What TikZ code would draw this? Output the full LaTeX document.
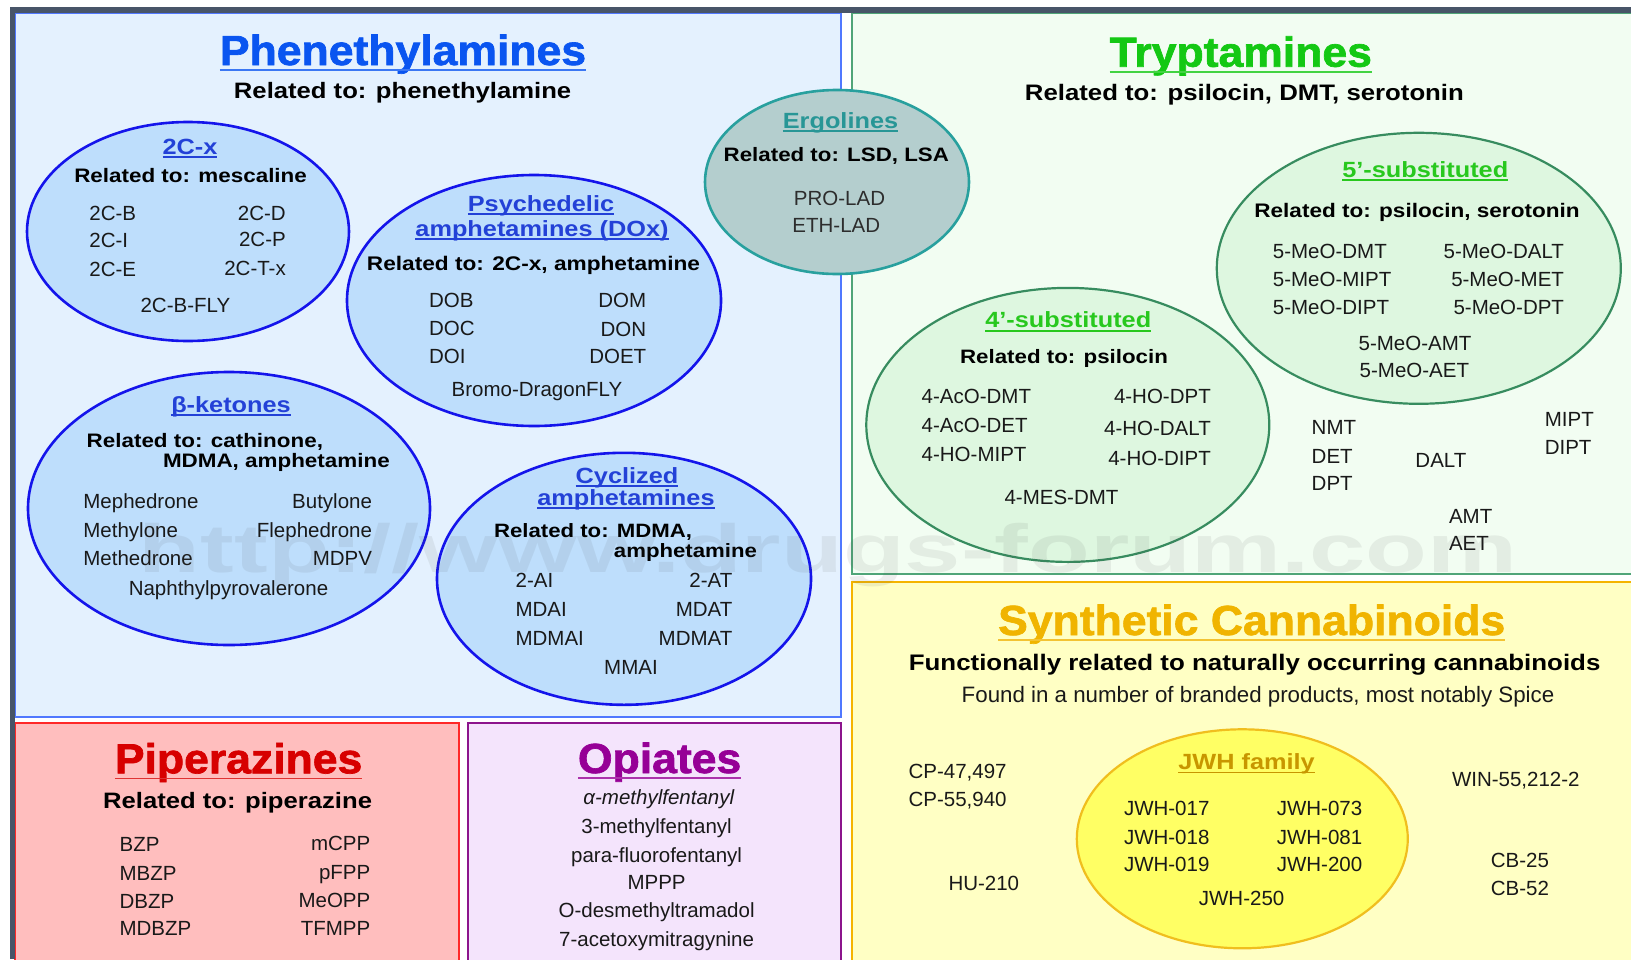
\documentclass[tikz,border=0pt]{standalone}
\usepackage{fontspec}
\setmainfont{Liberation Sans}[BoldFeatures={FakeStretch=1.15}]
\newfontfamily\ttlfont{Liberation Sans}[FakeStretch=1.06,BoldFeatures={FakeBold=1.6}]
\usetikzlibrary{shapes.geometric}
\definecolor{framec}{RGB}{72,85,104}
\definecolor{phfill}{RGB}{228,241,254}
\definecolor{phline}{RGB}{80,120,255}
\definecolor{trfill}{RGB}{242,253,242}
\definecolor{trline}{RGB}{80,165,120}
\definecolor{syfill}{RGB}{255,255,196}
\definecolor{syline}{RGB}{245,180,0}
\definecolor{pifill}{RGB}{255,190,190}
\definecolor{piline}{RGB}{255,40,40}
\definecolor{opfill}{RGB}{244,228,252}
\definecolor{opline}{RGB}{140,20,140}
\definecolor{bellfill}{RGB}{190,222,252}
\definecolor{bellline}{RGB}{20,20,235}
\definecolor{gellfill}{RGB}{222,247,224}
\definecolor{gellline}{RGB}{55,140,95}
\definecolor{eellfill}{RGB}{180,206,206}
\definecolor{eellline}{RGB}{40,160,158}
\definecolor{yellfill}{RGB}{255,255,100}
\definecolor{yellline}{RGB}{240,190,30}
\definecolor{phttl}{RGB}{10,85,240}
\definecolor{trttl}{RGB}{20,200,20}
\definecolor{syttl}{RGB}{240,180,0}
\definecolor{pittl}{RGB}{215,0,0}
\definecolor{opttl}{RGB}{150,0,150}
\definecolor{bsub}{RGB}{35,65,215}
\definecolor{gsub}{RGB}{40,200,30}
\definecolor{esub}{RGB}{40,150,150}
\definecolor{ysub}{RGB}{200,150,0}
\definecolor{txt}{RGB}{25,25,25}
\definecolor{ergtxt}{RGB}{45,45,45}
\tikzset{
  every node/.style={inner sep=0pt, outer sep=0pt},
  itx/.style={font=\fontsize{20.5}{24}\selectfont, text=txt},
  itl/.style={itx, anchor=base west},
  itr/.style={itx, anchor=base east},
  itc/.style={itx, anchor=base},
  rel/.style={font=\fontsize{#1}{#1}\selectfont\bfseries, text=black, anchor=base},
  ttl/.style={font=\fontsize{42}{48}\ttlfont\bfseries, anchor=base},
  subt/.style={font=\fontsize{22}{26}\selectfont\bfseries, anchor=base},
  ellbase/.style={shape=ellipse, inner sep=0pt},
  bell/.style={ellbase, fill=bellfill, draw=bellline, line width=2.6pt},
  gell/.style={ellbase, fill=gellfill, draw=gellline, line width=2.2pt},
  eell/.style={ellbase, fill=eellfill, draw=eellline, line width=2.6pt},
  yell/.style={ellbase, fill=yellfill, draw=yellline, line width=2.2pt},
}
\newcommand\ttlnode[5]{%
  \node[ttl, text=#4] (#1) at (#2,#3) {#5};
  \draw[#4!80, line width=1.6pt] ([yshift=-5pt]#1.base west) -- ([yshift=-5pt]#1.base east);}
\newcommand\subnode[5]{%
  \node[subt, text=#4] (#1) at (#2,#3) {#5};
  \draw[#4, line width=1.4pt] ([yshift=-3pt]#1.base west) -- ([yshift=-3pt]#1.base east);}
\begin{document}
\begin{tikzpicture}[x=1pt,y=-1pt]
\clip (0,0) rectangle (1631,959);
\fill[white] (0,0) rectangle (1631,959);
% panels
\draw[fill=phfill, draw=phline, line width=2pt] (15,13) rectangle (841,717);
\draw[fill=trfill, draw=trline, line width=2pt] (852,13) rectangle (1650,574);
\draw[fill=syfill, draw=syline, line width=2.5pt] (852,582) rectangle (1650,975);
\draw[fill=pifill, draw=piline, line width=2pt] (15,723) rectangle (459,975);
\draw[fill=opfill, draw=opline, line width=2.5pt] (468,723) rectangle (841,975);
% ellipses
\node[bell, minimum width=322, minimum height=219] (e2c) at (188,231.5) {};
\node[bell, minimum width=374, minimum height=251] (eps) at (534,300.5) {};
\node[bell, minimum width=402, minimum height=273] (ebk) at (229,508.5) {};
\node[bell, minimum width=374, minimum height=252] (ecy) at (624,578.8) {};
\node[eell, minimum width=264, minimum height=184] (eer) at (837,182) {};
\node[gell, minimum width=404, minimum height=271] (e5) at (1418.8,268.3) {};
\node[gell, minimum width=403, minimum height=274] (e4) at (1067.8,424.9) {};
\node[yell, minimum width=331, minimum height=219] (ejw) at (1242.3,838.8) {};
% Phenethylamines
\ttlnode{tph}{403}{65}{phttl}{Phenethylamines}
\node[rel=22.3] (rph) at (402.6,98.3) {Related to: phenethylamine};
% 2C-x
\subnode{s2c}{190}{154}{bsub}{2C-x}
\node[rel=19.5] (r2c) at (190.6,182.7) {Related to: mescaline};
\node[itl] (c1) at (89.4,220) {2C-B};
\node[itr] (c2) at (285.8,220) {2C-D};
\node[itl] (c3) at (89.4,247.3) {2C-I};
\node[itr] (c4) at (285.8,246) {2C-P};
\node[itl] (c5) at (89.4,276) {2C-E};
\node[itr] (c6) at (285.8,275) {2C-T-x};
\node[itc] (c7) at (185.4,312.7) {2C-B-FLY};
% Psychedelic amphetamines
\subnode{sps1}{541}{211}{bsub}{Psychedelic}
\subnode{sps2}{542}{236}{bsub}{amphetamines (DOx)}
\node[rel=19.7] (rps) at (533.5,270) {Related to: 2C-x, amphetamine};
\node[itl] (d1) at (429,307.3) {DOB};
\node[itr] (d2) at (646.2,307) {DOM};
\node[itl] (d3) at (429,335) {DOC};
\node[itr] (d4) at (646.2,336) {DON};
\node[itl] (d5) at (429,363.3) {DOI};
\node[itr] (d6) at (646.2,363) {DOET};
\node[itc] (d7) at (537,396) {Bromo-DragonFLY};
% beta-ketones
\subnode{sbk}{231}{412}{bsub}{β-ketones}
\node[rel=19.5, anchor=base west] (rbk1) at (86.7,447) {Related to: cathinone,};
\node[rel=19.5, anchor=base west] (rbk2) at (163,467) {MDMA, amphetamine};
\node[itl] (k1) at (83.4,508) {Mephedrone};
\node[itr] (k2) at (372,508) {Butylone};
\node[itl] (k3) at (83.4,537) {Methylone};
\node[itr] (k4) at (372,537) {Flephedrone};
\node[itl] (k5) at (83.4,565) {Methedrone};
\node[itr] (k6) at (372,565) {MDPV};
\node[itc] (k7) at (228.5,595) {Naphthylpyrovalerone};
% Cyclized amphetamines
\subnode{scy1}{627}{483}{bsub}{Cyclized}
\subnode{scy2}{626}{505}{bsub}{amphetamines}
\node[rel=19.3, anchor=base west] (rcy1) at (494,537) {Related to: MDMA,};
\node[rel=19.3, anchor=base east] (rcy2) at (757,557) {amphetamine};
\node[itl] (y1) at (515.6,587.7) {2-AI};
\node[itr] (y2) at (732.3,587.7) {2-AT};
\node[itl] (y3) at (515.6,616.7) {MDAI};
\node[itr] (y4) at (732.3,616.7) {MDAT};
\node[itl] (y5) at (515.6,645) {MDMAI};
\node[itr] (y6) at (732.3,645) {MDMAT};
\node[itc] (y7) at (631,674) {MMAI};
% Ergolines
\subnode{ser}{840.5}{128}{esub}{Ergolines}
\node[rel=19.4] (rer) at (836.3,161) {Related to: LSD, LSA};
\node[itc, text=ergtxt] (g1) at (839.5,205.5) {PRO-LAD};
\node[itc, text=ergtxt] (g2) at (836.3,232.5) {ETH-LAD};
% Tryptamines
\ttlnode{ttr}{1240.8}{66.7}{trttl}{Tryptamines}
\node[rel=22.4] (rtr) at (1244.4,100) {Related to: psilocin, DMT, serotonin};
\subnode{s5}{1425.3}{177}{gsub}{5’-substituted}
\node[rel=19.6] (r5) at (1417,217.8) {Related to: psilocin, serotonin};
\node[itl] (f1) at (1272.9,258) {5-MeO-DMT};
\node[itr] (f2) at (1564,258) {5-MeO-DALT};
\node[itl] (f3) at (1272.9,286) {5-MeO-MIPT};
\node[itr] (f4) at (1564,286) {5-MeO-MET};
\node[itl] (f5) at (1272.9,314.8) {5-MeO-DIPT};
\node[itr] (f6) at (1564,314.8) {5-MeO-DPT};
\node[itc] (f7) at (1415,350) {5-MeO-AMT};
\node[itc] (f8) at (1414.4,377.8) {5-MeO-AET};
\subnode{s4}{1068.3}{327.8}{gsub}{4’-substituted}
\node[rel=19.4] (r4) at (1064,363) {Related to: psilocin};
\node[itl] (h1) at (921.7,403.7) {4-AcO-DMT};
\node[itr] (h2) at (1210.8,403.7) {4-HO-DPT};
\node[itl] (h3) at (921.7,432.6) {4-AcO-DET};
\node[itr] (h4) at (1210.8,435) {4-HO-DALT};
\node[itl] (h5) at (921.7,461) {4-HO-MIPT};
\node[itr] (h6) at (1210.8,465.6) {4-HO-DIPT};
\node[itc] (h7) at (1061.5,504.4) {4-MES-DMT};
\node[itl] (o1) at (1311.7,434) {NMT};
\node[itl] (o2) at (1311.7,463) {DET};
\node[itl] (o3) at (1311.7,490.7) {DPT};
\node[itc] (o4) at (1440.9,467.4) {DALT};
\node[itl] (o5) at (1544.8,426.7) {MIPT};
\node[itl] (o6) at (1544.8,454.4) {DIPT};
\node[itl] (o7) at (1449,523) {AMT};
\node[itl] (o8) at (1449,550.7) {AET};
% Synthetic Cannabinoids
\ttlnode{tsy}{1251.7}{635}{syttl}{Synthetic Cannabinoids}
\node[rel=22.5] (rsy) at (1254.6,670) {Functionally related to naturally occurring cannabinoids};
\node[itc, font=\fontsize{22.3}{26}\selectfont] (fsy) at (1258,702.7) {Found in a number of branded products, most notably Spice};
\subnode{sjw}{1246.6}{769.3}{ysub}{JWH family}
\node[itl] (m1) at (908.6,778.3) {CP-47,497};
\node[itl] (m2) at (908.6,806.7) {CP-55,940};
\node[itl] (m3) at (948.5,890) {HU-210};
\node[itl] (m4) at (1452,786) {WIN-55,212-2};
\node[itl] (m5) at (1490.9,867.7) {CB-25};
\node[itl] (m6) at (1490.9,895) {CB-52};
\node[itl] (j1) at (1124,815.7) {JWH-017};
\node[itr] (j2) at (1362.2,815.7) {JWH-073};
\node[itl] (j3) at (1124,844) {JWH-018};
\node[itr] (j4) at (1362.2,844) {JWH-081};
\node[itl] (j5) at (1124,871.7) {JWH-019};
\node[itr] (j6) at (1362.2,871.7) {JWH-200};
\node[itc] (j7) at (1241.6,905) {JWH-250};
% Piperazines
\ttlnode{tpi}{238.6}{773.3}{pittl}{Piperazines}
\node[rel=22.3] (rpi) at (237.6,808.3) {Related to: piperazine};
\node[itl] (p1) at (119.6,851.7) {BZP};
\node[itr] (p2) at (370.3,850.7) {mCPP};
\node[itl] (p3) at (119.6,880) {MBZP};
\node[itr] (p4) at (370.3,879.3) {pFPP};
\node[itl] (p5) at (119.6,908.3) {DBZP};
\node[itr] (p6) at (370.3,907.3) {MeOPP};
\node[itl] (p7) at (119.6,935) {MDBZP};
\node[itr] (p8) at (370.3,935) {TFMPP};
% Opiates
\ttlnode{top}{659.6}{773}{opttl}{Opiates}
\node[itc, font=\fontsize{20.5}{24}\selectfont\itshape] (q1) at (658.8,804) {α-methylfentanyl};
\node[itc] (q2) at (656.6,833.3) {3-methylfentanyl};
\node[itc] (q3) at (656.6,862.3) {para-fluorofentanyl};
\node[itc] (q4) at (656.6,889.3) {MPPP};
\node[itc] (q5) at (656.6,917.3) {O-desmethyltramadol};
\node[itc] (q6) at (656.6,946) {7-acetoxymitragynine};
% watermark
\node[anchor=base, font=\fontsize{68}{70}\selectfont\bfseries, text=black!70, text opacity=0.09] (wm) at (828,572) {\scalebox{1.293}[1]{http://www.drugs-forum.com}};
% dark frame
\fill[framec] (10,7) rectangle (1631,13);
\fill[framec] (10,7) rectangle (15,959);
\end{tikzpicture}
\end{document}
